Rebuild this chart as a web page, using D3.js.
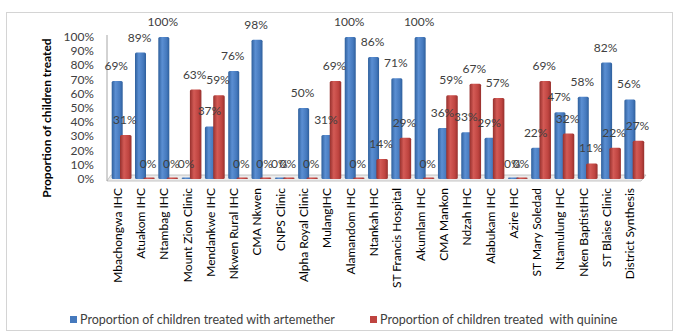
<!DOCTYPE html>
<html>
<head>
<meta charset="utf-8">
<script src="https://cdn.jsdelivr.net/npm/d3@7"></script>
<style>
  body { margin: 0; background: #fff; }
  svg text { font-family: Lato, "Open Sans", sans-serif; fill: #404040; }
</style>
</head>
<body>
<div id="chart"></div>
<script>
// Data
const facilities = ["Mbachongwa IHC", "Atuakom IHC", "Ntambag IHC", "Mount Zion Clinic", "Mendankwe IHC",
    "Nkwen Rural IHC", "CMA  Nkwen", "CNPS Clinic", "Alpha Royal Clinic", "MulangIHC", "Alamandom IHC",
    "Ntankah IHC", "ST Francis Hospital", "Akumlam IHC", "CMA Mankon", "Ndzah IHC", "Alabukam IHC",
    "Azire IHC", "ST Mary Soledad", "Ntamulung IHC", "Nken BaptistIHC", "ST Blaise Clinic", "District Synthesis"];
const artemether = [69, 89, 100, 0, 37, 76, 98, 0, 50, 31, 100, 86, 71, 100, 36, 33, 29, 0, 22, 47, 58, 82, 56];
const quinine = [31, 0, 0, 63, 59, 0, 0, 0, 0, 69, 0, 14, 29, 0, 59, 67, 57, 0, 69, 32, 11, 22, 27];
const yTicks = [0, 10, 20, 30, 40, 50, 60, 70, 80, 90, 100];
const seriesNames = ["Proportion of children treated with artemether", "Proportion of children treated  with quinine"];

const width = 675, height = 333;

const svg = d3.select("#chart").append("svg")
    .attr("width", width)
    .attr("height", height);

// gradients for the 3D look
const defs = svg.append("defs");
function addGrad(id, dark, mid, light) {
    const g = defs.append("linearGradient").attr("id", id)
        .attr("x1", "0%").attr("x2", "100%").attr("y1", "0%").attr("y2", "0%");
    g.append("stop").attr("offset", "0%").attr("stop-color", dark);
    g.append("stop").attr("offset", "35%").attr("stop-color", light);
    g.append("stop").attr("offset", "75%").attr("stop-color", mid);
    g.append("stop").attr("offset", "100%").attr("stop-color", dark);
}
addGrad("gBlue", "#2e5f9c", "#4579bd", "#5b8fd3");
addGrad("gRed", "#96302d", "#bf4440", "#d35a55");

// outer frame
svg.append("rect")
    .attr("x", 6.5).attr("y", 12.5)
    .attr("width", 666).attr("height", 318)
    .attr("fill", "none")
    .attr("stroke", "#d4d4d4");

const x = d3.scaleBand().domain(facilities).range([107, 643]).padding(0);
const y = d3.scaleLinear().domain([0, 100]).range([179, 37]);

// floor
svg.append("polygon")
    .attr("points", "107,181 641,181 646,175 111,175")
    .attr("fill", "#ececec")
    .attr("stroke", "#b8b8b8")
    .attr("stroke-width", 0.8);

// y axis line
svg.append("line")
    .attr("x1", 107).attr("x2", 107)
    .attr("y1", 35).attr("y2", 181)
    .attr("stroke", "#a6a6a6");

// y tick labels
svg.append("g").selectAll("text")
    .data(yTicks)
    .join("text")
    .attr("x", 94)
    .attr("y", d => y(d) + 4)
    .attr("text-anchor", "end")
    .style("font-size", "12px")
    .text(d => d + "%");

// y title
svg.append("text")
    .attr("transform", "translate(51,118) rotate(-90)")
    .attr("text-anchor", "middle")
    .style("font-size", "12px")
    .style("font-weight", "bold")
    .style("fill", "#000")
    .text("Proportion of children treated");

const bw = x.bandwidth();
const series = [
    { values: artemether, off: 4.7, w: 11, fill: "url(#gBlue)" },
    { values: quinine, off: 13, w: 11.5, fill: "url(#gRed)" }
];

series.forEach(s => {
    const g = svg.append("g");
    g.selectAll("rect")
        .data(facilities)
        .join("rect")
        .attr("x", d => x(d) + s.off)
        .attr("width", s.w)
        .attr("y", (d, i) => Math.min(y(s.values[i]), y(0) - 1.5))
        .attr("height", (d, i) => Math.max(y(0) - y(s.values[i]), 1.5))
        .attr("rx", 1.5)
        .attr("fill", s.fill);
});

// data labels
series.forEach(s => {
    svg.append("g").selectAll("text")
        .data(facilities)
        .join("text")
        .attr("x", d => x(d) + s.off + s.w / 2 - 1)
        .attr("y", (d, i) => y(s.values[i]) - 11)
        .attr("text-anchor", "middle")
        .style("font-size", "12px")
        .text((d, i) => s.values[i] + "%");
});

// category labels
svg.append("g").selectAll("text")
    .data(facilities)
    .join("text")
    .attr("transform", d => `translate(${x(d) + bw / 2 + 3},188) rotate(-90)`)
    .attr("text-anchor", "end")
    .style("font-size", "12px")
    .style("fill", "#000")
    .text(d => d);

// legend
const legendX = [70, 370];
const legendFill = ["#4579bd", "#bf4440"];
seriesNames.forEach((name, i) => {
    svg.append("rect")
        .attr("x", legendX[i]).attr("y", 316)
        .attr("width", 7).attr("height", 7)
        .attr("fill", legendFill[i]);
    svg.append("text")
        .attr("x", legendX[i] + 10).attr("y", 324)
        .style("font-size", "12.5px")
        .style("white-space", "pre")
        .text(name);
});
</script>
</body>
</html>
